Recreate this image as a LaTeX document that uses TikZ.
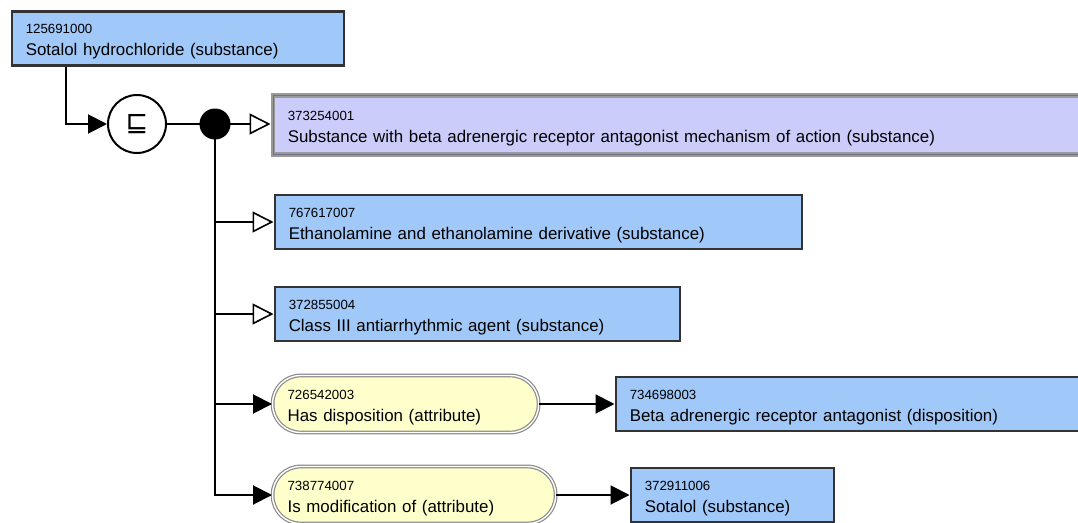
\documentclass[tikz,border=0pt]{standalone}
\usepackage{fontspec}
\setmainfont{Liberation Sans}
\newfontfamily\symfont{DejaVu Sans}
\usetikzlibrary{arrows.meta,calc}
\definecolor{conceptblue}{HTML}{A0C8F8}
\definecolor{definedpurple}{HTML}{CCCCFA}
\definecolor{attryellow}{HTML}{FFFFCC}
\definecolor{boxborder}{HTML}{333333}
\definecolor{frame}{HTML}{9A9A9A}
\newcommand{\lbl}[2]{{\fontsize{13.3}{15}\selectfont\rule{0pt}{16pt}#1}\\#2}
\tikzset{
  lblfont/.style={font=\fontsize{16.9}{22}\selectfont},
  concept/.style={rectangle, draw=boxborder, line width=2.5pt, fill=conceptblue, lblfont,
    align=left, inner xsep=14pt, inner ysep=0pt, anchor=west},
  defined/.style={rectangle, draw=frame, line width=4.5pt, fill=definedpurple, lblfont,
    align=left, inner xsep=15pt, inner ysep=0pt, anchor=west},
  attr/.style={rectangle, rounded corners=28pt, draw=frame!90!black, line width=1.2pt,
    double=white, double distance=1.4pt, fill=attryellow, lblfont,
    align=left, inner xsep=15pt, inner ysep=0pt, anchor=west},
  conn/.style={line width=2pt, draw=black},
  isa/.style={conn, -{Triangle[open, length=21pt, width=21pt, fill=white, line width=1.6pt]}},
  rel/.style={conn, -{Triangle[length=19pt, width=19pt]}},
}
\begin{document}
\begin{tikzpicture}[x=1pt,y=-1pt]
\useasboundingbox (0,0) rectangle (1078,522);
\clip (0,0) rectangle (1078,522);

\node[concept, minimum width=332pt, minimum height=54pt, text width=304pt] (box1) at (10.5,38.3)
  {\lbl{125691000}{Sotalol hydrochloride (substance)}};

\node[circle, draw=black, line width=2pt, fill=white, minimum size=58pt, inner sep=0pt] (circ) at (137,124)
  {\symfont\fontsize{27}{27}\selectfont ⊑};
\node[circle, fill=black, minimum size=31pt, inner sep=0pt] (dot) at (215,124) {};

\node[defined, minimum width=830pt, minimum height=59pt, text width=800pt] (box2) at (270.5,125)
  {\lbl{373254001}{Substance with beta adrenergic receptor antagonist mechanism of action (substance)}};
\draw[line width=0.8pt, draw=black!45!definedpurple] ($(box2.north west)+(2.5,2.5)$) rectangle ($(box2.south east)+(-2.5,-2.5)$);

\node[concept, minimum width=527pt, minimum height=54pt, text width=499pt] (box3) at (273.5,222)
  {\lbl{767617007}{Ethanolamine and ethanolamine derivative (substance)}};
\node[concept, minimum width=405pt, minimum height=54pt, text width=377pt] (box4) at (273.5,314)
  {\lbl{372855004}{Class III antiarrhythmic agent (substance)}};

\node[attr, minimum width=266pt, minimum height=57pt, text width=236pt] (attr1) at (272,404)
  {\lbl{726542003}{Has disposition (attribute)}};
\node[concept, minimum width=480pt, minimum height=54pt, text width=452pt] (box5) at (614.5,404)
  {\lbl{734698003}{Beta adrenergic receptor antagonist (disposition)}};

\node[attr, minimum width=283pt, minimum height=57pt, text width=253pt] (attr2) at (272,495)
  {\lbl{738774007}{Is modification of (attribute)}};
\node[concept, minimum width=203pt, minimum height=54pt, text width=175pt] (box6) at (629.5,495)
  {\lbl{372911006}{Sotalol (substance)}};

\coordinate (src) at ($(box1.south west)+(55,0)$);
\draw[rel] (src) |- (circ.west);
\draw[conn] (circ.east) -- (dot.center);
\draw[isa] (dot.center) -- (dot -| box2.west);
\draw[isa] (dot.center) |- (box3.west);
\draw[isa] (dot.center) |- (box4.west);
\draw[rel] (dot.center) |- (attr1.west);
\draw[rel] (dot.center) |- (attr2.west);
\draw[rel] (attr1.east) -- (box5.west);
\draw[rel] (attr2.east) -- (box6.west);
\end{tikzpicture}
\end{document}
